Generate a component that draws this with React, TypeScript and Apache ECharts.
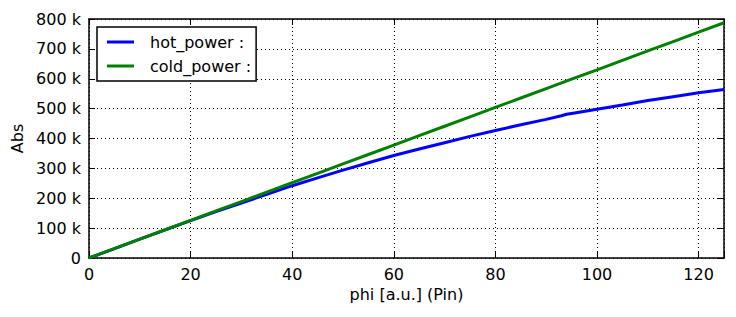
import React, { useEffect, useRef } from "react";
import * as echarts from "echarts";

// phi values [a.u.]
const phi = [0, 5, 10, 15, 20, 25, 30, 35, 40, 45, 50, 55, 60, 65, 70, 75, 80, 85, 90, 93, 94, 95, 100, 105, 110, 115, 120, 125];
// hot_power (in thousands)
const hotPower = [0, 31.5, 63, 94, 125, 155, 184, 213, 242, 268, 294, 319, 343, 365, 386, 407, 427, 446, 464, 476, 481, 484, 498, 512, 527, 540, 553, 564];
// cold_power (in thousands)
const coldPhi = [0, 5, 10, 15, 20, 25, 30, 35, 40, 45, 50, 55, 60, 65, 70, 75, 80, 85, 90, 95, 100, 105, 110, 115, 120, 125];
const coldPower = [0, 31.5, 63, 94.5, 126, 157.5, 189, 220.5, 252, 283.5, 315, 346.5, 378, 409.5, 441, 472.5, 504, 535.5, 567, 598.5, 630, 661.5, 693, 724.5, 756, 787.5];

const xTicks = [0, 20, 40, 60, 80, 100, 120];

const FONT = "DejaVu Sans";

export default function App() {
  const ref = useRef<HTMLDivElement>(null);
  useEffect(() => {
    if (!ref.current) return;
    const chart = echarts.init(ref.current, undefined, { renderer: "svg" });
    const tickStyle = { show: true, inside: true, length: 6, lineStyle: { color: "#000", width: 1 } };
    const split = { show: true, lineStyle: { color: "#000", width: 1, type: [1, 3] as any } };
    chart.setOption({
      animation: false,
      backgroundColor: "#fff",
      textStyle: { fontFamily: FONT },
      grid: { left: 89, right: 12, top: 19, bottom: 59, containLabel: false },
      legend: {
        orient: "vertical",
        left: 97,
        top: 27,
        backgroundColor: "#fff",
        borderColor: "#000",
        borderWidth: 1.5,
        borderRadius: 0,
        padding: [7, 5, 7, 10],
        itemGap: 8,
        itemWidth: 27,
        itemHeight: 3,
        icon: "rect",
        textStyle: { fontFamily: FONT, fontSize: 16, color: "#000", padding: [0, 0, 0, 11] },
        data: ["hot_power :", "cold_power :"],
      },
      xAxis: [
        {
          type: "value",
          min: 0,
          max: 125,
          interval: 20,
          name: "phi [a.u.] (Pin)",
          nameLocation: "middle",
          nameGap: 28,
          nameTextStyle: { fontFamily: FONT, fontSize: 16, color: "#000" },
          axisLine: { show: true, onZero: false, lineStyle: { color: "#000", width: 1.5 } },
          axisTick: tickStyle,
          axisLabel: {
            fontFamily: FONT,
            fontSize: 16,
            color: "#000",
            margin: 8,
            formatter: (v: number) => (xTicks.includes(v) ? String(v) : ""),
          },
          splitLine: split,
        },
        {
          type: "value",
          position: "top",
          min: 0,
          max: 125,
          interval: 20,
          axisLine: { show: true, onZero: false, lineStyle: { color: "#000", width: 1.5 } },
          axisTick: tickStyle,
          axisLabel: { show: false },
          splitLine: { show: false },
        },
      ],
      yAxis: [
        {
          type: "value",
          min: 0,
          max: 800,
          interval: 100,
          name: "Abs",
          nameLocation: "middle",
          nameGap: 62,
          nameTextStyle: { fontFamily: FONT, fontSize: 16, color: "#000" },
          axisLine: { show: true, onZero: false, lineStyle: { color: "#000", width: 1.5 } },
          axisTick: tickStyle,
          axisLabel: {
            fontFamily: FONT,
            fontSize: 16,
            color: "#000",
            margin: 8,
            formatter: (v: number) => (v === 0 ? "0" : v + " k"),
          },
          splitLine: split,
        },
        {
          type: "value",
          position: "right",
          min: 0,
          max: 800,
          interval: 100,
          axisLine: { show: true, onZero: false, lineStyle: { color: "#000", width: 1.5 } },
          axisTick: tickStyle,
          axisLabel: { show: false },
          splitLine: { show: false },
        },
      ],
      series: [
        {
          name: "hot_power :",
          type: "line",
          showSymbol: false,
          symbol: "none",
          color: "#0000ff",
          lineStyle: { color: "#0000ff", width: 3 },
          data: phi.map((p, i) => [p, hotPower[i]]),
          z: 3,
        },
        {
          name: "cold_power :",
          type: "line",
          showSymbol: false,
          symbol: "none",
          color: "#008000",
          lineStyle: { color: "#008000", width: 3 },
          data: coldPhi.map((p, i) => [p, coldPower[i]]),
          z: 4,
        },
      ],
    });
    return () => chart.dispose();
  }, []);
  return (
    <div
      ref={ref}
      style={{ position: "absolute", left: 0, top: 0, width: 736, height: 317 }}
    />
  );
}
